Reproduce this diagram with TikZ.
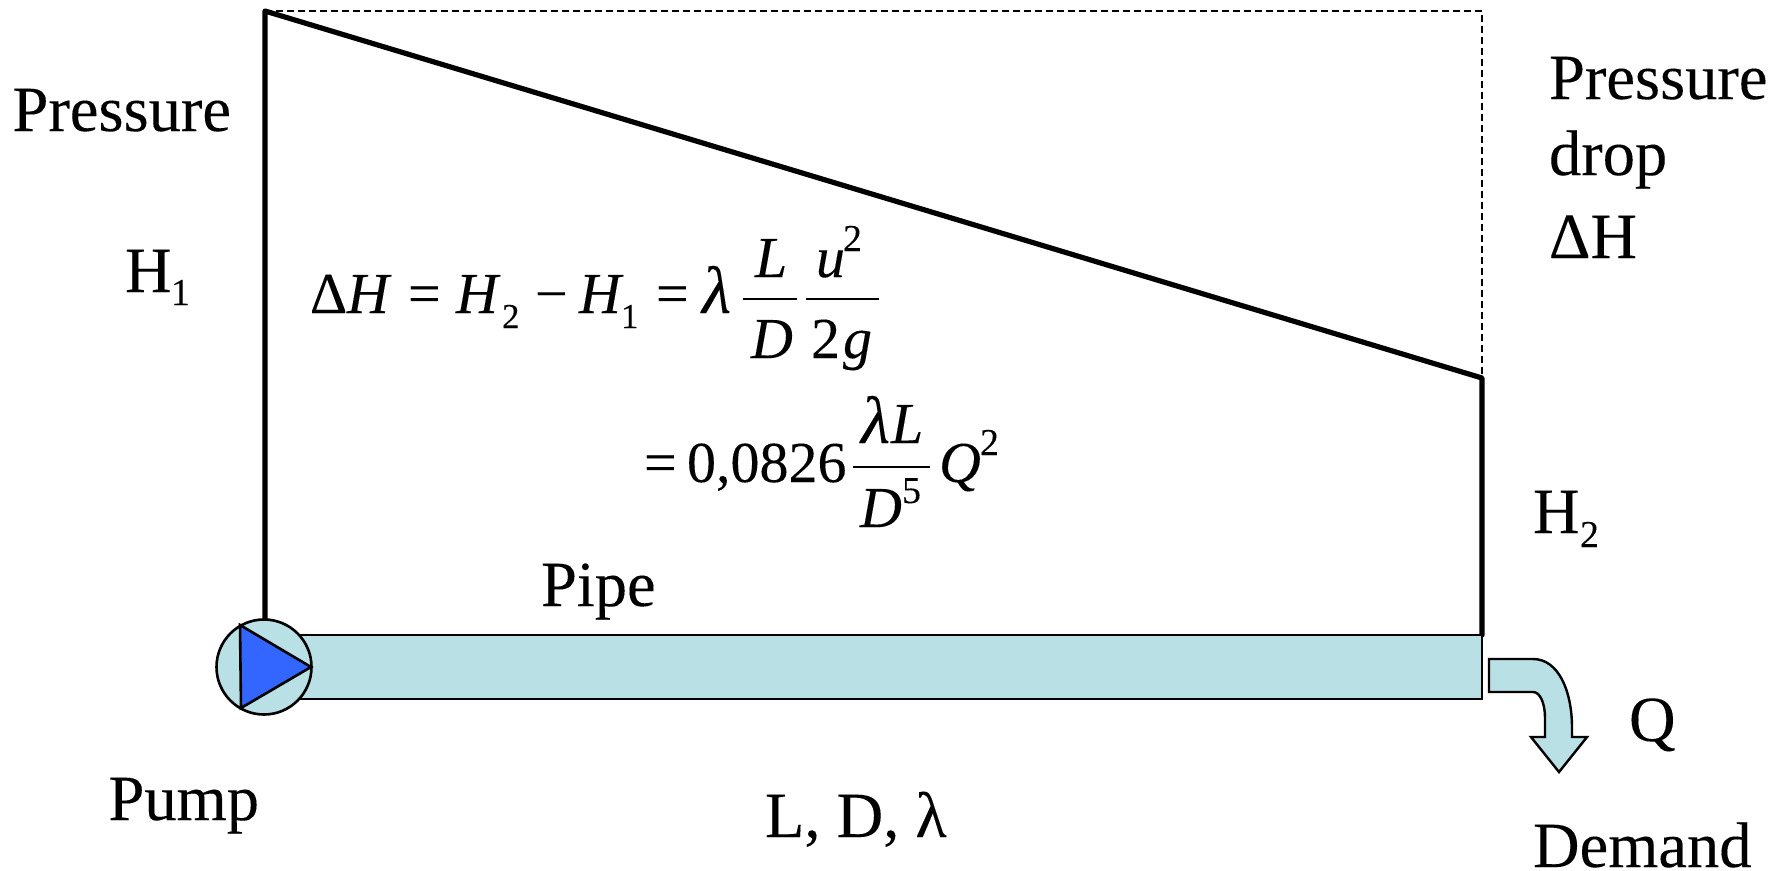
\documentclass[tikz,border=0pt]{standalone}
\usepackage{fontspec}
\setmainfont[FakeBold=0.12]{Liberation Serif}
\definecolor{pipefill}{RGB}{185,224,228}
\definecolor{pumpblue}{RGB}{51,102,255}
\tikzset{
  lbl/.style={anchor=base west,inner sep=0pt,outer sep=0pt,font=\fontsize{64.5}{70}\selectfont},
  sub/.style={anchor=base west,inner sep=0pt,outer sep=0pt,font=\fontsize{38}{40}\selectfont},
  eq/.style={anchor=base west,inner sep=0pt,outer sep=0pt,font=\fontsize{58}{60}\selectfont},
  eqi/.style={eq,font=\fontsize{58}{60}\itshape\selectfont},
  eql/.style={eq,font=\fontsize{67}{70}\itshape\selectfont},
  eqs/.style={anchor=base west,inner sep=0pt,outer sep=0pt,font=\fontsize{35}{36}\selectfont},
  eqsup/.style={anchor=base west,inner sep=0pt,outer sep=0pt,font=\fontsize{38}{40}\selectfont},
  heavy/.style={line width=5.2pt},
  thinline/.style={line width=2.6pt},
  fracbar/.style={line width=2pt},
}
\begin{document}
\begin{tikzpicture}[x=1pt,y=-1pt]
\useasboundingbox (0,0) rectangle (1785,870);
% key points
\coordinate (tl) at (265,11);
\coordinate (tr) at (1482,11);
\coordinate (mr) at (1482,378);
\coordinate (pr) at (1482,635);
\coordinate (pb) at (265,635);
% pressure lines
\draw[line width=2.2pt,dash pattern=on 7pt off 4pt] (tl) -- (tr) -- (mr);
\draw[heavy,line cap=round,line join=round] (pb) -- (tl) -- (mr) -- (pr);
% pipe
\node[draw=black,fill=pipefill,thinline,minimum width=1217pt,minimum height=64pt,inner sep=0pt,outer sep=0pt,anchor=north east] (pipe) at (pr) {};
% pump
\node[circle,draw=black,fill=pipefill,line width=2.6pt,minimum size=95pt,inner sep=0pt,outer sep=0pt] (pump) at (264,667) {};
\draw[fill=pumpblue,line width=2.6pt,line join=miter] (240,625) -- (311,667) -- (241,708) -- cycle;
% demand arrow
\draw[fill=pipefill,line width=2.4pt,line join=miter]
  (1489,659) -- (1533,659) .. controls (1558,659) and (1572,690) .. (1572,728)
  -- (1572,737) -- (1587,737) -- (1559,772) -- (1531,737) -- (1545,737) -- (1545,718)
  .. controls (1545,703) and (1540,692) .. (1533,692) -- (1489,692) -- cycle;
% labels
\node[lbl] (pressure) at (12.5,131) {Pressure};
\node[lbl] (h1) at (125,292) {H};
\node[sub] (h1s) at (171,305) {1};
\node[lbl] (pd1) at (1549,99) {Pressure};
\node[lbl] (pd2) at (1549,175) {drop};
\node[lbl] (pd3) at (1549,258) {ΔH};
\node[lbl] (h2) at (1533,533) {H};
\node[sub] (h2s) at (1580,547) {2};
\node[lbl] (pipelbl) at (541,606) {Pipe};
\node[lbl] (pumplbl) at (108.5,820) {Pump};
\node[lbl] (ldl) at (765,837) {L, D, λ};
\node[lbl] (q) at (1629,741) {Q};
\node[lbl] (demand) at (1533,867) {Demand};
% formula line 1
\node[eq] (e1) at (310,313) {Δ};
\node[eqi] (e2) at (347,313) {H};
\node[eq] (e3) at (408,313) {=};
\node[eqi] (e4) at (456,313) {H};
\node[eqs] (e5) at (502,328) {2};
\node[eq] (e6) at (535,313) {−};
\node[eqi] (e7) at (579,313) {H};
\node[eqs] (e8) at (621,328) {1};
\node[eq] (e9) at (656,313) {=};
\node[eql] (e10) at (702,313) {λ};
\node[eqi] (e11) at (755,277) {L};
\node[eqi] (e12) at (751,358) {D};
\draw[fracbar] (743,299) -- (797,299);
\node[eqi] (e13) at (816,277) {u};
\node[eqsup] (e14) at (843,251) {2};
\node[eq] (e15) at (811,358) {2};
\node[eqi] (e16) at (843,358) {g};
\draw[fracbar] (806,299) -- (879,299);
% formula line 2
\node[eq] (f1) at (644,482) {=};
\node[eq] (f2) at (687,482) {0,0826};
\node[eql] (f3) at (861,443) {λ};
\node[eqi] (f3b) at (891,443) {L};
\draw[fracbar] (853,467) -- (930,467);
\node[eqi] (f4) at (860,527) {D};
\node[eqsup] (f5) at (902,503) {5};
\node[eqi] (f6) at (939,482) {Q};
\node[eqsup] (f7) at (980,455) {2};
\end{tikzpicture}
\end{document}
